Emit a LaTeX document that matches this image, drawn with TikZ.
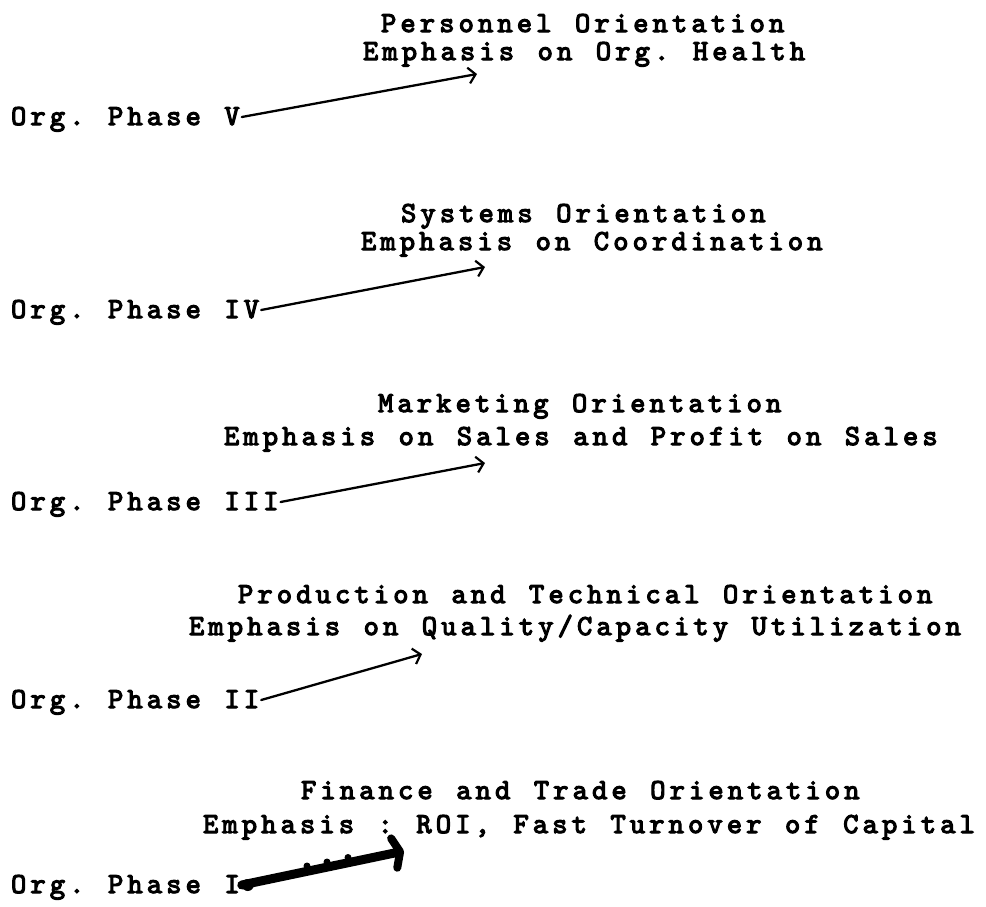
\documentclass[tikz,border=0pt]{standalone}
\usepackage{fontspec}
\usetikzlibrary{arrows.meta}
\newfontfamily\typefont{lmmono10-regular.otf}[FakeBold=4]

% typewriter pitch: every character sits in a fixed-width cell
\newlength\twpitch
\setlength\twpitch{19.4pt}
\makeatletter
\def\tw#1{\tw@loop#1\relax}
\def\tw@loop#1{\ifx\relax#1\else\hbox to\twpitch{\hss#1\hss}\expandafter\tw@loop\fi}
\makeatother

\tikzset{
  typed/.style={anchor=base west, inner sep=0pt, outer sep=0pt,
    font=\typefont\fontsize{29}{30}\selectfont},
  phase/.style={typed, text height=16pt, text depth=0pt},
  pen/.style={line width=2.3pt, line cap=round,
    -{Straight Barb[length=7pt,width=16pt,line width=2.2pt]}},
  heavypen/.style={line width=9pt, line cap=round,
    -{Straight Barb[length=6pt,width=30pt,line width=8pt,round]}}
}

\begin{document}
\begin{tikzpicture}[x=1pt,y=-1pt]
\useasboundingbox (0,0) rectangle (986,906);

% Phase V
\node[typed] (o5) at (379,32) {\tw{Personnel~Orientation}};
\node[typed] (e5) at (361,60) {\tw{Emphasis~on~Org.~Health}};
\node[phase] (p5) at (9,125) {\tw{Org.~Phase~V}};
\coordinate (t5) at (477,74);
\draw[pen] (p5.east) -- (t5);

% Phase IV
\node[typed] (o4) at (399,222) {\tw{Systems~Orientation}};
\node[typed] (e4) at (359,250) {\tw{Emphasis~on~Coordination}};
\node[phase] (p4) at (9,318) {\tw{Org.~Phase~IV}};
\coordinate (t4) at (485,267);
\draw[pen] (p4.east) -- (t4);

% Phase III
\node[typed] (o3) at (376,412) {\tw{Marketing~Orientation}};
\node[typed] (e3) at (222,445) {\tw{Emphasis~on~Sales~and~Profit~on~Sales}};
\node[phase] (p3) at (9,510) {\tw{Org.~Phase~III}};
\coordinate (t3) at (485,463);
\draw[pen] (p3.east) -- (t3);

% Phase II
\node[typed] (o2) at (236,603) {\tw{Production~and~Technical~Orientation}};
\node[typed] (e2) at (187,635) {\tw{Emphasis~on~Quality/Capacity~Utilization}};
\node[phase] (p2) at (9,708) {\tw{Org.~Phase~II}};
\coordinate (t2) at (422,654);
\draw[pen] (p2.east) -- (t2);

% Phase I (heavy inked arrow with blots along its upper edge)
\node[typed] (o1) at (299,799) {\tw{Finance~and~Trade~Orientation}};
\node[typed] (e1) at (201,833) {\tw{Emphasis~:~ROI,~Fast~Turnover~of~Capital}};
\node[phase] (p1) at (9,893) {\tw{Org.~Phase~I}};
\coordinate (t1) at (404,851);
\draw[heavypen] (p1.east) -- (t1);
\fill (p1.east) ++(6,0) circle (6pt);
\fill (307,866) circle (3.5pt);
\fill (327,862) circle (3.5pt);
\fill (348,857.5) circle (3.5pt);
\end{tikzpicture}
\end{document}
